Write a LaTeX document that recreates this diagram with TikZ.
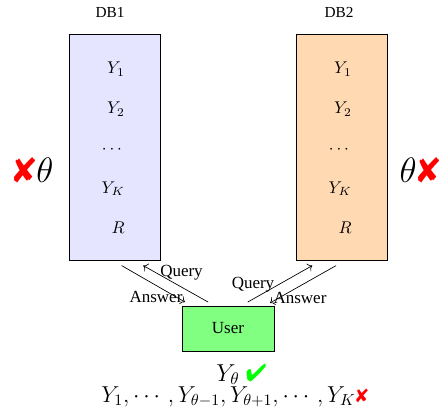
\documentclass[tikz,border=0pt]{standalone}
\usepackage{amsmath}
\usepackage{amssymb}
\usepackage{pifont}
\usepackage[no-math]{fontspec}
\setmainfont{Liberation Serif}
\usepackage{tikz}
\usetikzlibrary{arrows.meta,arrows}

\tikzset{
  dbbox/.style={draw=black, minimum width=53.5pt, minimum height=132.9pt},
  dbitem/.style={anchor=base east, inner sep=0pt},
  msg/.style={anchor=base, inner sep=0pt}
}

\begin{document}
\begin{tikzpicture}[x=0.2067cm,y=0.2067cm]
\useasboundingbox (0,0) rectangle (44,41.6);
%%% the two databases
\node[dbbox, fill=blue!10] (db1) at (11.45,26.9) {};
\node[dbbox, fill=orange!30] (db2) at (34.15,26.9) {};
\node[msg] (db1name) at (11.0,39.8) {\small DB1};
\node[msg] (db2name) at (33.9,39.8) {\small DB2};
%
\node[dbitem] (db1y1) at (12.5,34.2) {$Y_1$};
\node[dbitem] (db1y2) at (12.5,30.23) {$Y_2$};
\node[dbitem] (db1dots) at (12.5,26.25) {$\cdots$};
\node[dbitem] (db1yk) at (12.5,22.28) {$Y_K$};
\node[dbitem] (db1r) at (12.5,18.3) {$R$};
%
\node[dbitem] (db2y1) at (35.2,34.2) {$Y_1$};
\node[dbitem] (db2y2) at (35.2,30.23) {$Y_2$};
\node[dbitem] (db2dots) at (35.2,26.25) {$\cdots$};
\node[dbitem] (db2yk) at (35.2,22.28) {$Y_K$};
\node[dbitem] (db2r) at (35.2,18.3) {$R$};
%
\node (miss1) at (3.3,24.6) {\huge\textcolor{red}{\ding{56}}$\theta$};
\node (miss2) at (42.0,24.6) {\huge$\theta$\textcolor{red}{\ding{56}}};
%%% the user
\node[draw=black, fill=green!50, minimum width=54.1pt, minimum height=26.5pt] (user) at (22.8,8.75) {User};
%
\draw[->] ([xshift=4.2pt,yshift=-3.1pt]db1.south) -- ([xshift=-25.3pt,yshift=2.1pt]user.north);
\draw[->] ([xshift=-11.7pt,yshift=2.1pt]user.north) -- ([xshift=16.9pt,yshift=-3.1pt]db1.south);
\draw[->] ([xshift=11.6pt,yshift=2.1pt]user.north) -- ([xshift=-17.2pt,yshift=-3.1pt]db2.south);
\draw[->] ([xshift=-3.2pt,yshift=-3.1pt]db2.south) -- ([xshift=24.7pt,yshift=1.6pt]user.north);
\node[msg] (query1) at (18.15,14.0) {Query};
\node[msg] (answer1) at (15.6,11.4) {Answer};
\node[msg] (query2) at (25.3,12.8) {Query};
\node[msg] (answer2) at (30.0,11.3) {Answer};
%%% what the user learns
\node[msg] (known) at (24.15,3.5) {\Large$Y_\theta$ \textcolor{green}{\ding{52}}};
\node[msg, scale=0.94, transform shape] (unknown) at (23.5,1.4) {\Large$Y_1,\cdots,Y_{\theta-1},Y_{\theta+1},\cdots,Y_K$\large\textcolor{red}{\ding{56}}};
\end{tikzpicture}
\end{document}
